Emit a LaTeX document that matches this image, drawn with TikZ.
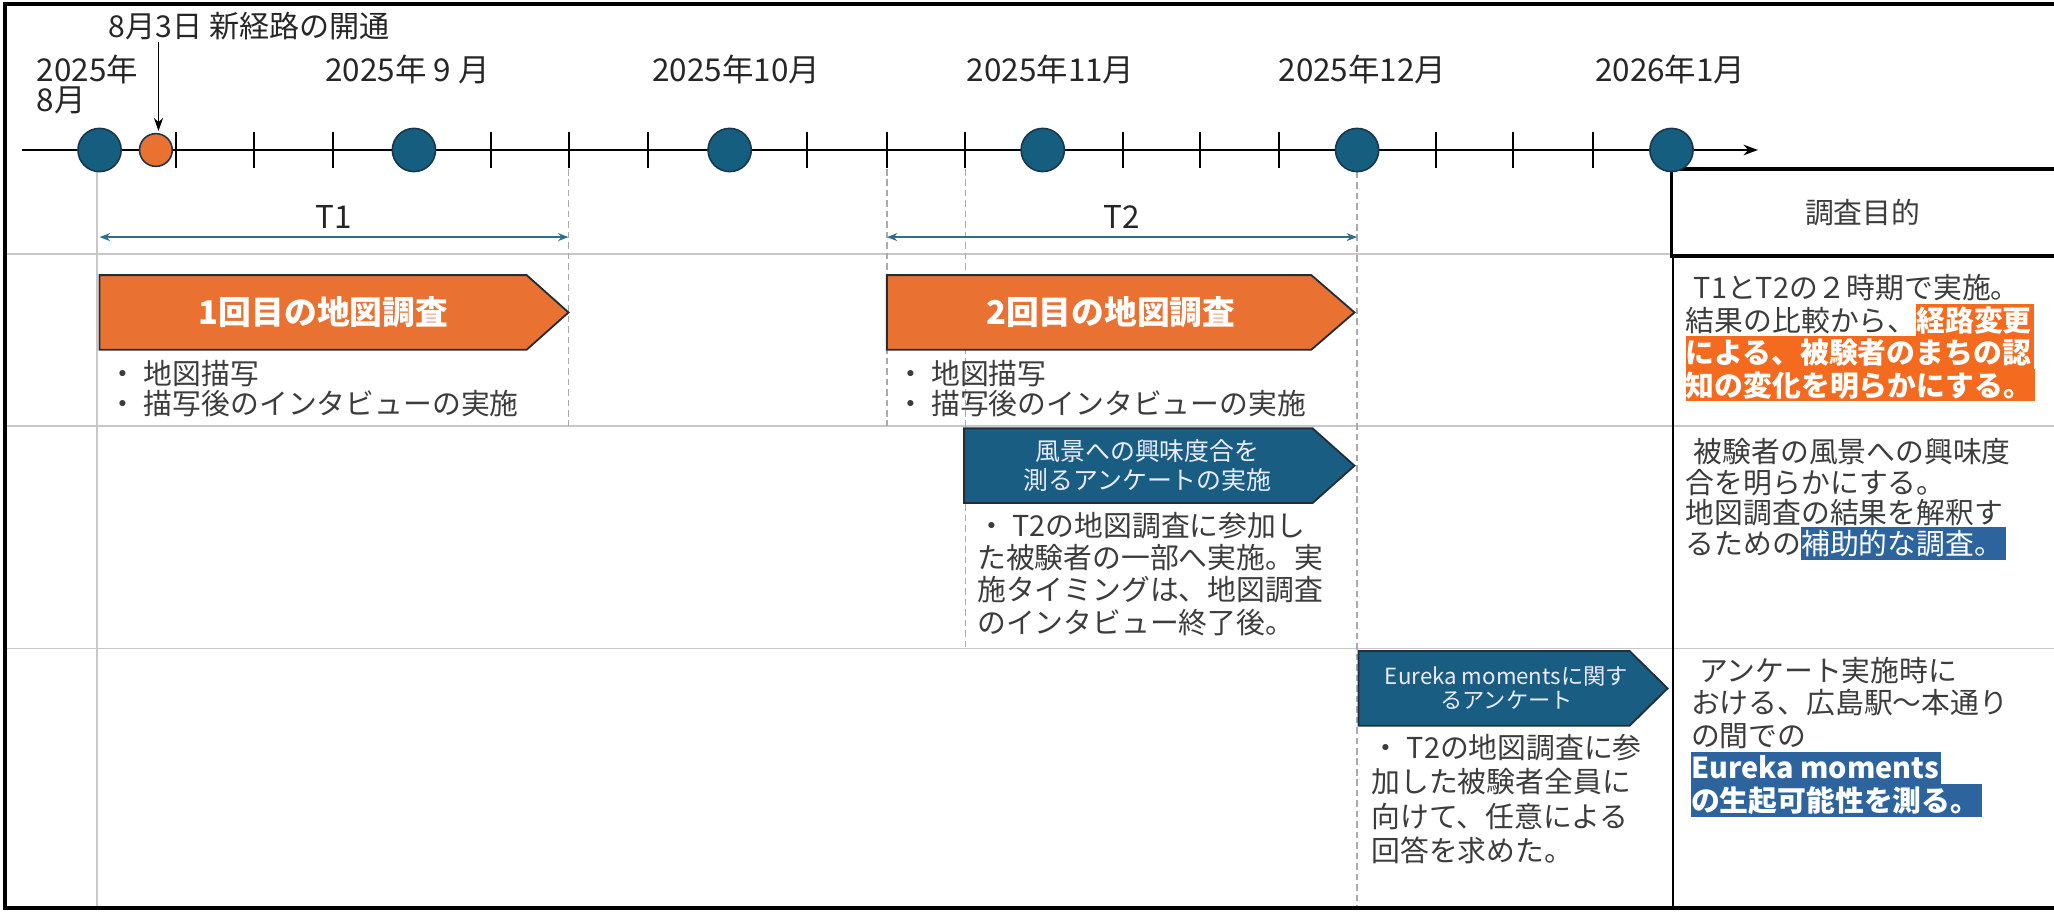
\documentclass[tikz,border=0pt]{standalone}
\usepackage{fontspec}
\setmainfont{Noto Sans CJK JP}
\usetikzlibrary{arrows.meta}
\definecolor{dotblue}{RGB}{22,94,128}
\definecolor{dotedge}{RGB}{25,55,75}
\definecolor{boxorange}{RGB}{233,113,50}
\definecolor{boxblue}{RGB}{25,94,130}
\definecolor{boxedge}{RGB}{35,45,55}
\definecolor{tblue}{RGB}{46,111,142}
\definecolor{hlorange}{RGB}{244,106,30}
\definecolor{hlblue}{RGB}{46,100,158}
\definecolor{txt}{RGB}{60,60,60}
\definecolor{gridc}{RGB}{200,200,200}
\definecolor{dashc}{RGB}{170,170,170}
\newlength\hlh \setlength\hlh{24.8pt}
\newcommand\hlo[1]{{\setlength\fboxsep{0pt}\colorbox{hlorange}{\rule[-4pt]{0pt}{\hlh}\textcolor{white}{\bfseries #1}\hspace{2pt}}}}
\newcommand\hlbn[1]{{\setlength\fboxsep{0pt}\colorbox{hlblue}{\rule[-4pt]{0pt}{\hlh}\textcolor{white}{#1}\hspace{2pt}}}}
\newcommand\hlbb[1]{{\setlength\fboxsep{0pt}\colorbox{hlblue}{\rule[-4pt]{0pt}{\hlh}\textcolor{white}{\bfseries #1}\hspace{2pt}}}}
\begin{document}
\begin{tikzpicture}[x=1pt,y=-1pt,
  every node/.style={inner sep=0pt,outer sep=0pt},
  gridline/.style={draw=gridc,line width=1.3pt},
  dashline/.style={draw=dashc,line width=1pt,dash pattern=on 5pt off 3pt},
  month/.style={font=\fontsize{24}{24}\selectfont,text=black!85},
  body/.style={text=txt,align=left,anchor=west},
  bluedot/.style={circle,fill=dotblue,draw=dotedge,line width=1.2pt,minimum size=33pt},
  orangedot/.style={circle,fill=boxorange,draw=dotedge,line width=1.2pt,minimum size=25pt},
  obox/.style={fill=boxorange,draw=boxedge,line width=1.4pt},
  bbox/.style={fill=boxblue,draw=boxedge,line width=1.4pt},
  otitle/.style={font=\fontsize{25}{25}\selectfont\bfseries,text=white},
  tarrow/.style={draw=tblue,line width=1.3pt,{Stealth[length=8pt,width=6pt]}-{Stealth[length=8pt,width=6pt]}}
]
\useasboundingbox (0,0) rectangle (1568,696);
\fill[white] (0,0) rectangle (1568,696);
% grid lines
\draw[gridline] (3,194) -- (1276,194);
\draw[gridline] (3,325) -- (1568,325);
\draw[gridline] (3,495) -- (1568,495);
\draw[gridline] (74,131) -- (74,693);
\draw[dashline] (434,129) -- (434,325);
\draw[dashline] (677,129) -- (677,325);
\draw[dashline] (737,129) -- (737,495);
\draw[dashline] (1036,131) -- (1036,693);
\draw[line width=1.5pt] (1277,195) -- (1277,693);
% header box
\draw[line width=2.5pt] (1575,129) -- (1276,129) -- (1276,195.5) -- (1575,195.5);
\node[font=\fontsize{22}{22}\selectfont,text=txt] (goal) at (1422,162) {調査目的};
% frame
\draw[line width=3pt] (1575,3) -- (3.5,3) -- (3.5,693) -- (1575,693);
% timeline
\coordinate (tl0) at (17,114.5);
\coordinate (tl1) at (1342,114.5);
\draw[line width=2pt,-{Stealth[length=11pt,width=8pt]}] (tl0) -- (tl1);
\foreach \x in {134,194,254,375,434,495,616,677,737,857,916,976,1096,1155,1216}
  \draw[line width=1.5pt] (\x,101) -- (\x,128);
\node[bluedot] (d8) at (76,114.5) {};
\node[orangedot] (dopen) at (119,114.5) {};
\node[bluedot] (d9) at (316,114.5) {};
\node[bluedot] (d10) at (557,114.5) {};
\node[bluedot] (d11) at (796,114.5) {};
\node[bluedot] (d12) at (1036,114.5) {};
\node[bluedot] (d1) at (1276,114.5) {};
% month labels
\node[month,align=left,anchor=west,font=\fontsize{24}{23}\selectfont] (l8) at (28,64.5) {2025年\\8月};
\node[month] (l9) at (311,53) {2025年 9 月};
\node[month] (l10) at (562,53) {2025年10月};
\node[month] (l11) at (802,53) {2025年11月};
\node[month] (l12) at (1040,53) {2025年12月};
\node[month] (l1) at (1275,53) {2026年1月};
\node[month,anchor=west,font=\fontsize{23}{23}\selectfont] (open) at (83,20) {8月3日 新経路の開通};
\coordinate (openarr) at (121,32);
\draw[line width=1.5pt,-{Stealth[length=10pt,width=7pt]}] (openarr) -- (121,100);
% periods
\coordinate (t1a) at (76,181); \coordinate (t1b) at (434,181);
\coordinate (t2a) at (677,181); \coordinate (t2b) at (1036,181);
\draw[tarrow] (t1a) -- (t1b);
\draw[tarrow] (t2a) -- (t2b);
\node[month] (t1) at (255,166) {T1};
\node[month] (t2) at (856,166) {T2};
% row 1
\draw[obox] (76,210) -- (402,210) -- (434,238.5) -- (402,267) -- (76,267) -- cycle;
\node[otitle] (s1) at (247,238.5) {1回目の地図調査};
\draw[obox] (677,210) -- (1001,210) -- (1034,238.5) -- (1001,267) -- (677,267) -- cycle;
\node[otitle] (s2) at (848,238.5) {2回目の地図調査};
\node[body,font=\fontsize{22}{23}\selectfont] (s1t) at (83,296.5) {・ 地図描写\\・ 描写後のインタビューの実施};
\node[body,font=\fontsize{22}{23}\selectfont] (s2t) at (684,296.5) {・ 地図描写\\・ 描写後のインタビューの実施};
% row 2
\draw[bbox] (736,327) -- (1002,327) -- (1034,355.5) -- (1002,384) -- (736,384) -- cycle;
\node[font=\fontsize{19}{22}\selectfont,text=white!92!blue,align=center] (q1) at (876,355.5) {風景への興味度合を\\測るアンケートの実施};
\node[body,font=\fontsize{22}{24.7}\selectfont] (q1t) at (746,438) {・ T2の地図調査に参加し\\た被験者の一部へ実施。実\\施タイミングは、地図調査\\のインタビュー終了後。};
% row 3
\draw[bbox] (1037,497) -- (1244,497) -- (1273,525.5) -- (1244,554) -- (1037,554) -- cycle;
\node[font=\fontsize{17}{18.5}\selectfont,text=white!92!blue,align=center] (q2) at (1150,525.5) {Eureka momentsに関す\\るアンケート};
\node[body,font=\fontsize{22}{26}\selectfont] (q2t) at (1047,610) {・ T2の地図調査に参\\加した被験者全員に\\向けて、任意による\\回答を求めた。};
% goals column
\node[body,font=\fontsize{22}{24.8}\selectfont] (g1) at (1287,258) {\hspace*{6pt}T1とT2の２時期で実施。\\結果の比較から、\hlo{経路変更}\\\hlo{による、被験者のまちの認}\\\hlo{知の変化を明らかにする。}};
\node[body,font=\fontsize{22}{23.3}\selectfont] (g2) at (1287,381) {\hspace*{6pt}被験者の風景への興味度\\合を明らかにする。\\地図調査の結果を解釈す\\るための\hlbn{補助的な調査。}};
\node[body,font=\fontsize{22}{24.8}\selectfont] (g3) at (1291,562.5) {\hspace*{6pt}アンケート実施時に\\おける、広島駅～本通り\\の間での\\\hlbb{Eureka moments}\\\hlbb{の生起可能性を測る。}};
\end{tikzpicture}
\end{document}
